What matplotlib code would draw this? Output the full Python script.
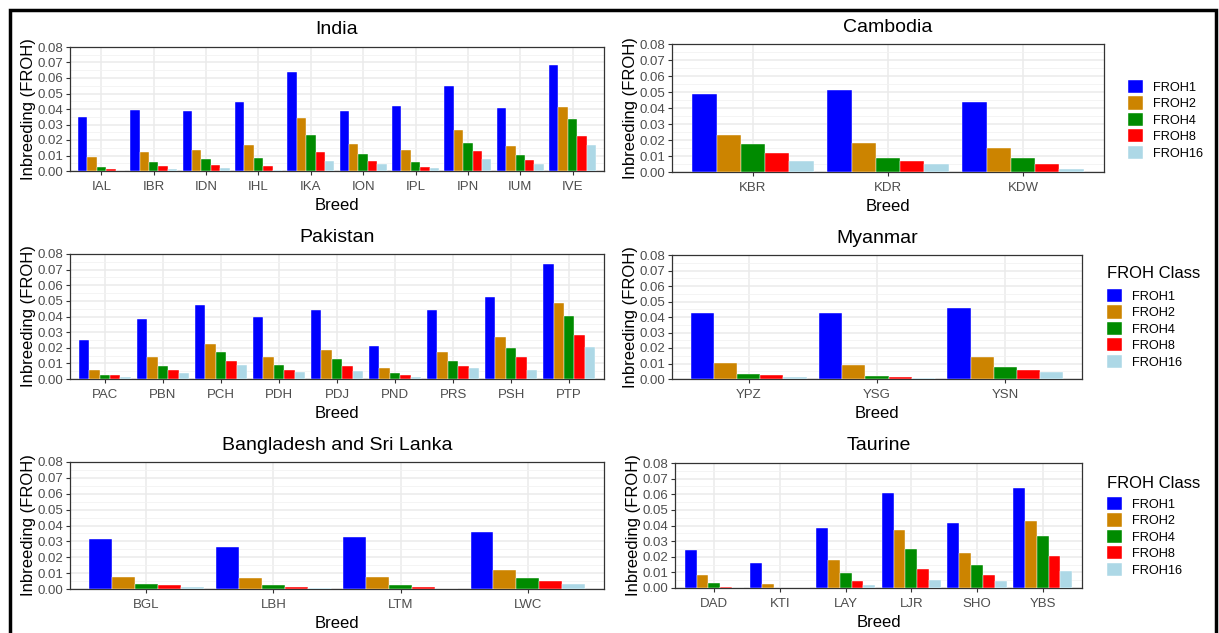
import matplotlib.pyplot as plt
import numpy as np
from matplotlib.patches import Patch, Rectangle

plt.rcParams['font.family'] = ['Liberation Sans', 'DejaVu Sans']

W, H = 1219, 633

classes = ['FROH1', 'FROH2', 'FROH4', 'FROH8', 'FROH16']
class_colors = ['#0000FF', '#CC8400', '#008B00', '#FF0000', '#ADD8E6']

# rows: FROH1, FROH2, FROH4, FROH8, FROH16 ; columns: breeds
india_breeds = ['IAL', 'IBR', 'IDN', 'IHL', 'IKA', 'ION', 'IPL', 'IPN', 'IUM', 'IVE']
india_froh = [
    [0.0348, 0.0394, 0.0389, 0.0443, 0.0637, 0.0385, 0.0417, 0.0548, 0.0404, 0.0684],
    [0.0092, 0.0123, 0.0138, 0.0168, 0.0340, 0.0172, 0.0138, 0.0262, 0.0159, 0.0411],
    [0.0026, 0.0056, 0.0080, 0.0084, 0.0234, 0.0112, 0.0056, 0.0180, 0.0103, 0.0333],
    [0.0015, 0.0032, 0.0039, 0.0030, 0.0123, 0.0065, 0.0026, 0.0127, 0.0069, 0.0224],
    [0.0002, 0.0010, 0.0019, 0.0006, 0.0062, 0.0045, 0.0017, 0.0080, 0.0045, 0.0170],
]

cambodia_breeds = ['KBR', 'KDR', 'KDW']
cambodia_froh = [
    [0.0488, 0.0515, 0.0436],
    [0.0231, 0.0179, 0.0150],
    [0.0172, 0.0089, 0.0089],
    [0.0116, 0.0071, 0.0052],
    [0.0071, 0.0052, 0.0017],
]

pakistan_breeds = ['PAC', 'PBN', 'PCH', 'PDH', 'PDJ', 'PND', 'PRS', 'PSH', 'PTP']
pakistan_froh = [
    [0.0250, 0.0386, 0.0476, 0.0397, 0.0442, 0.0211, 0.0444, 0.0525, 0.0736],
    [0.0060, 0.0139, 0.0224, 0.0139, 0.0188, 0.0070, 0.0175, 0.0271, 0.0486],
    [0.0028, 0.0081, 0.0175, 0.0092, 0.0130, 0.0038, 0.0117, 0.0200, 0.0405],
    [0.0026, 0.0055, 0.0117, 0.0060, 0.0083, 0.0028, 0.0081, 0.0139, 0.0284],
    [0.0015, 0.0038, 0.0087, 0.0043, 0.0051, 0.0013, 0.0073, 0.0055, 0.0205],
]

myanmar_breeds = ['YPZ', 'YSG', 'YSN']
myanmar_froh = [
    [0.0425, 0.0425, 0.0461],
    [0.0103, 0.0092, 0.0144],
    [0.0034, 0.0019, 0.0077],
    [0.0026, 0.0013, 0.0060],
    [0.0015, 0.0006, 0.0047],
]

bsl_breeds = ['BGL', 'LBH', 'LTM', 'LWC']
bsl_froh = [
    [0.0315, 0.0265, 0.0330, 0.0359],
    [0.0075, 0.0067, 0.0075, 0.0119],
    [0.0031, 0.0027, 0.0023, 0.0067],
    [0.0023, 0.0015, 0.0013, 0.0050],
    [0.0013, 0.0004, 0.0002, 0.0031],
]

taurine_breeds = ['DAD', 'KTI', 'LAY', 'LJR', 'SHO', 'YBS']
taurine_froh = [
    [0.0245, 0.0161, 0.0384, 0.0609, 0.0416, 0.0641],
    [0.0084, 0.0026, 0.0180, 0.0373, 0.0225, 0.0431],
    [0.0032, 0.0002, 0.0097, 0.0251, 0.0150, 0.0335],
    [0.0009, 0.0001, 0.0045, 0.0120, 0.0084, 0.0208],
    [0.0001, 0.0000, 0.0019, 0.0049, 0.0047, 0.0109],
]


def px_axes(fig, x0, y0, x1, y1):
    # pixel box (top-left origin) -> figure axes
    return fig.add_axes([x0 / W, 1 - y1 / H, (x1 - x0) / W, (y1 - y0) / H])


def bar_panel(ax, title, breeds, vals):
    n = len(breeds)
    x = np.arange(n)
    bw = 0.9 / len(classes)
    for j, (cls, col) in enumerate(zip(classes, class_colors)):
        ax.bar(x + (j - 2) * bw, vals[j], width=bw, color=col,
               edgecolor='white', linewidth=0.3, zorder=3)
    ax.set_xlim(-0.6, n - 0.4)
    ax.set_ylim(0, 0.08)
    ax.set_xticks(x)
    ax.set_xticklabels(breeds)
    ax.set_yticks(np.arange(0, 0.081, 0.01))
    ax.set_yticklabels(['%.2f' % v for v in np.arange(0, 0.081, 0.01)])
    ax.set_yticks(np.arange(0.005, 0.08, 0.01), minor=True)
    ax.grid(True, which='major', color='#EBEBEB', linewidth=1.1, zorder=0)
    ax.grid(True, which='minor', axis='y', color='#F2F2F2', linewidth=0.6, zorder=0)
    ax.tick_params(axis='both', which='major', labelsize=9.5, colors='#333333',
                   labelcolor='#4D4D4D', length=3, width=0.8, pad=2)
    ax.tick_params(axis='x', which='major', pad=4)
    ax.tick_params(axis='y', which='minor', length=0)
    for s in ax.spines.values():
        s.set_color('#333333')
        s.set_linewidth(0.9)
    ax.set_title(title, fontsize=14, pad=9)
    ax.set_xlabel('Breed', fontsize=12, labelpad=4)
    ax.set_ylabel('Inbreeding (FROH)', fontsize=12, labelpad=1)
    ax.set_axisbelow(True)


fig = plt.figure(figsize=(W / 100, H / 100), dpi=100)

ax1 = px_axes(fig, 70, 47, 604, 171)
bar_panel(ax1, 'India', india_breeds, india_froh)
ax2 = px_axes(fig, 672, 44, 1104, 172)
bar_panel(ax2, 'Cambodia', cambodia_breeds, cambodia_froh)
ax3 = px_axes(fig, 70, 254, 604, 379)
bar_panel(ax3, 'Pakistan', pakistan_breeds, pakistan_froh)
ax4 = px_axes(fig, 672, 255, 1082, 379)
bar_panel(ax4, 'Myanmar', myanmar_breeds, myanmar_froh)
ax5 = px_axes(fig, 70, 462, 604, 589)
bar_panel(ax5, 'Bangladesh and Sri Lanka', bsl_breeds, bsl_froh)
ax6 = px_axes(fig, 675, 463, 1082, 588)
bar_panel(ax6, 'Taurine', taurine_breeds, taurine_froh)

handles = [Patch(facecolor=c, edgecolor='white', linewidth=0.3) for c in class_colors]
leg_kw = dict(frameon=False, fontsize=9.2, handlelength=1.2, handleheight=1.2,
              labelspacing=0.2, handletextpad=0.75, borderpad=0, borderaxespad=0)

fig.legend(handles, classes, loc='upper left', bbox_to_anchor=(1128 / W, 1 - 80 / H), **leg_kw)
for ytitle, ytop in ((274, 289), (483, 497)):
    fig.text(1107 / W, 1 - ytitle / H, 'FROH Class', fontsize=12, ha='left', va='center')
    fig.legend(handles, classes, loc='upper left', bbox_to_anchor=(1107 / W, 1 - ytop / H),
               **leg_kw)

# black frame round the whole figure (bottom edge runs off the canvas)
fig.patches.append(Rectangle((10 / W, -10 / H), 1206 / W, 633 / H, transform=fig.transFigure,
                             fill=False, edgecolor='black', linewidth=2.5))

fig.savefig('out.png', dpi=100)
